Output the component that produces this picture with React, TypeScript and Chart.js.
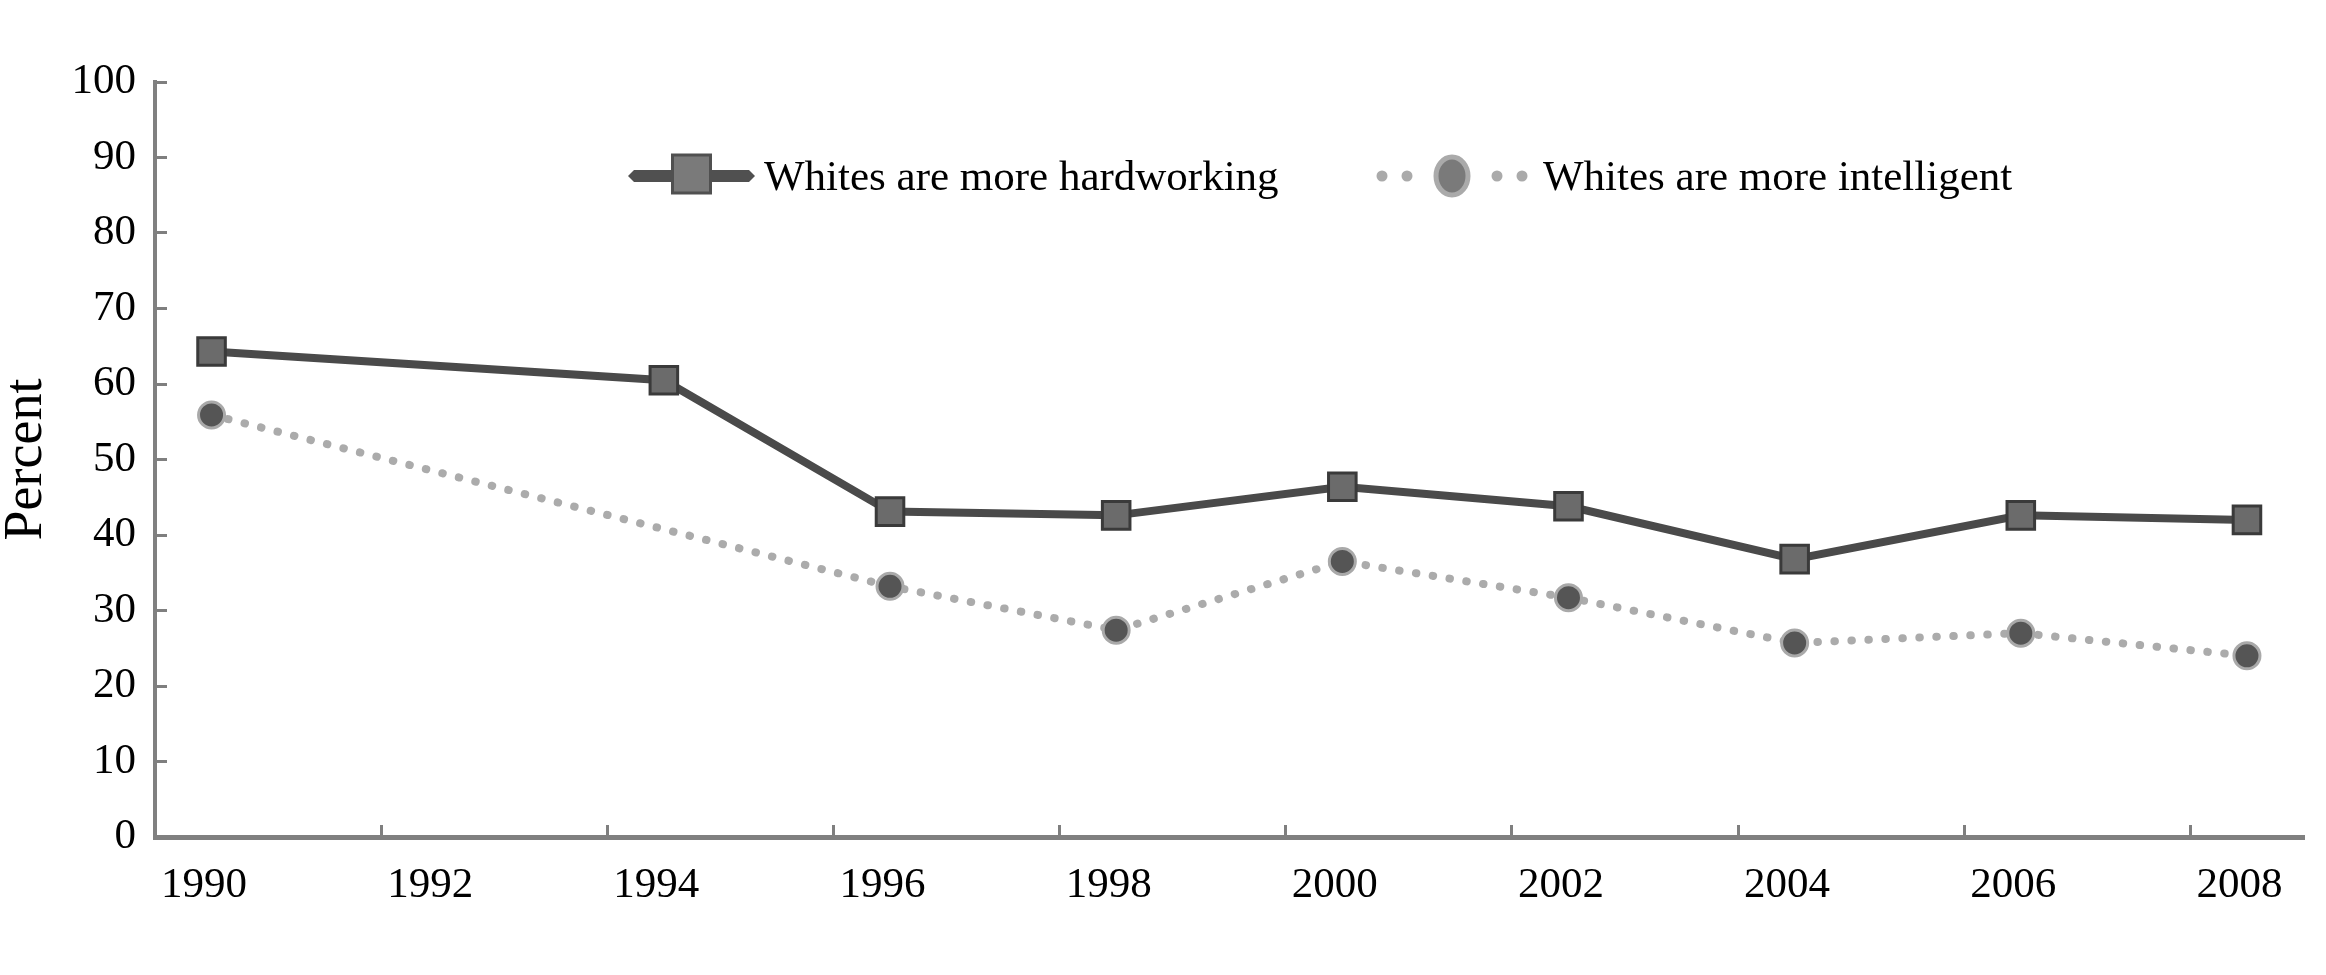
import React, { useEffect, useRef } from "react";
import { Chart, registerables } from "chart.js";

Chart.register(...registerables);

// ---- data ----
const years = [1990, 1994, 1996, 1998, 2000, 2002, 2004, 2006, 2008];
const hardworking = [64.3, 60.5, 43.1, 42.6, 46.4, 43.8, 36.8, 42.6, 42.0];
const intelligent = [55.9, null, 33.2, 27.4, 36.5, 31.7, 25.7, 27.0, 24.0];
const xTickYears = [1990, 1992, 1994, 1996, 1998, 2000, 2002, 2004, 2006, 2008];
const seriesNames = ["Whites are more hardworking", "Whites are more intelligent"];
const yAxisTitle = "Percent";

const FONT = '"Liberation Serif", "Times New Roman", serif';

const legendPlugin = {
  id: "lineLegend",
  afterDraw(chart: any, _args: any, opts: any) {
    const ctx = chart.ctx as CanvasRenderingContext2D;
    const cy = opts.y;
    ctx.save();
    chart.data.datasets.forEach((ds: any, i: number) => {
      const it = opts.items[i];
      if (ds.legendKind === "solid") {
        const x0 = it.x;
        const x1 = it.x + it.width;
        const h = 6;
        ctx.beginPath();
        ctx.moveTo(x0, cy);
        ctx.lineTo(x0 + 6, cy - h);
        ctx.lineTo(x1 - 6, cy - h);
        ctx.lineTo(x1, cy);
        ctx.lineTo(x1 - 6, cy + h);
        ctx.lineTo(x0 + 6, cy + h);
        ctx.closePath();
        ctx.fillStyle = "#505050";
        ctx.fill();
        const cx = (x0 + x1) / 2;
        const s = 38;
        ctx.fillStyle = "#7a7a7a";
        ctx.fillRect(cx - s / 2, cy - 2 - s / 2, s, s);
        ctx.lineWidth = 3;
        ctx.strokeStyle = "#505050";
        ctx.strokeRect(cx - s / 2, cy - 2 - s / 2, s, s);
      } else {
        const x0 = it.x;
        const x1 = it.x + it.width;
        const cx = (x0 + x1) / 2;
        ctx.fillStyle = "#aaaaaa";
        [x0 + 10, x0 + 35, x1 - 35, x1 - 10].forEach((dx) => {
          ctx.beginPath();
          ctx.arc(dx, cy, 5.5, 0, Math.PI * 2);
          ctx.fill();
        });
        ctx.beginPath();
        ctx.ellipse(cx, cy, 16, 19, 0, 0, Math.PI * 2);
        ctx.fillStyle = "#7a7a7a";
        ctx.fill();
        ctx.lineWidth = 5;
        ctx.strokeStyle = "#aaaaaa";
        ctx.stroke();
      }
      ctx.fillStyle = "#000";
      ctx.font = `43px ${FONT}`;
      ctx.textBaseline = "alphabetic";
      ctx.textAlign = "left";
      ctx.fillText(ds.label, it.textX, cy + 14);
    });
    ctx.restore();
  },
};

export default function App() {
  const ref = useRef<HTMLCanvasElement | null>(null);

  useEffect(() => {
    if (!ref.current) return;
    Chart.defaults.font.family = FONT;
    const chart = new Chart(ref.current, {
      type: "line",
      data: {
        datasets: [
          {
            label: seriesNames[0],
            legendKind: "solid",
            data: years.map((yr, i) => ({ x: yr, y: hardworking[i] })),
            borderColor: "#4a4a4a",
            borderWidth: 8,
            pointStyle: "rect",
            pointRadius: 19.5,
            pointBackgroundColor: "#6b6b6b",
            pointBorderColor: "#3a3a3a",
            pointBorderWidth: 3,
            tension: 0,
            order: 1,
          } as any,
          {
            label: seriesNames[1],
            legendKind: "dotted",
            data: years.map((yr, i) => ({ x: yr, y: intelligent[i] })),
            borderColor: "#ababab",
            borderWidth: 8,
            borderDash: [0.5, 16.5],
            borderCapStyle: "round",
            spanGaps: true,
            pointStyle: "circle",
            pointRadius: 13,
            pointBackgroundColor: "#555555",
            pointBorderColor: "#a9a9a9",
            pointBorderWidth: 3,
            tension: 0,
            order: 2,
          } as any,
        ],
      },
      options: {
        animation: false,
        responsive: true,
        maintainAspectRatio: false,
        layout: { padding: { top: 82, right: 20, bottom: 0, left: 0 } },
        plugins: {
          legend: { display: false },
          tooltip: { enabled: false },
          lineLegend: {
            y: 176,
            items: [
              { x: 628, width: 127, textX: 764 },
              { x: 1372, width: 160, textX: 1543 },
            ],
          },
        } as any,
        scales: {
          x: {
            type: "linear",
            min: 1989.5,
            max: 2008.5,
            afterBuildTicks: (scale: any) => {
              scale.ticks = xTickYears.map((yr) => ({ value: yr - 0.5 }));
            },
            afterFit: (scale: any) => {
              scale.height = 138;
            },
            ticks: {
              autoSkip: false,
              maxRotation: 0,
              labelOffset: 49,
              padding: 35,
              color: "#000",
              font: { size: 43, family: FONT },
              callback: (_v: any, i: number) => String(xTickYears[i]),
            },
            grid: {
              drawOnChartArea: false,
              drawTicks: true,
              tickLength: -12,
              color: "#7f7f7f",
              lineWidth: 3,
            },
            border: { display: true, color: "#808080", width: 5 },
          },
          y: {
            min: 0,
            max: 100,
            afterFit: (scale: any) => {
              scale.width = 155;
            },
            ticks: {
              stepSize: 10,
              padding: 31,
              color: "#000",
              font: { size: 43, family: FONT },
            },
            grid: {
              drawOnChartArea: false,
              drawTicks: true,
              tickLength: -12,
              color: "#7f7f7f",
              lineWidth: 3,
            },
            border: { display: true, color: "#808080", width: 4 },
            title: {
              display: true,
              text: yAxisTitle,
              color: "#000",
              padding: 0,
              font: { size: 54, family: FONT, lineHeight: 1 },
            },
          },
        },
      },
      plugins: [legendPlugin],
    } as any);
    return () => chart.destroy();
  }, []);

  return (
    <div style={{ position: "fixed", left: 0, top: 0, width: 2326, height: 975, background: "#fff" }}>
      <canvas ref={ref} />
    </div>
  );
}
